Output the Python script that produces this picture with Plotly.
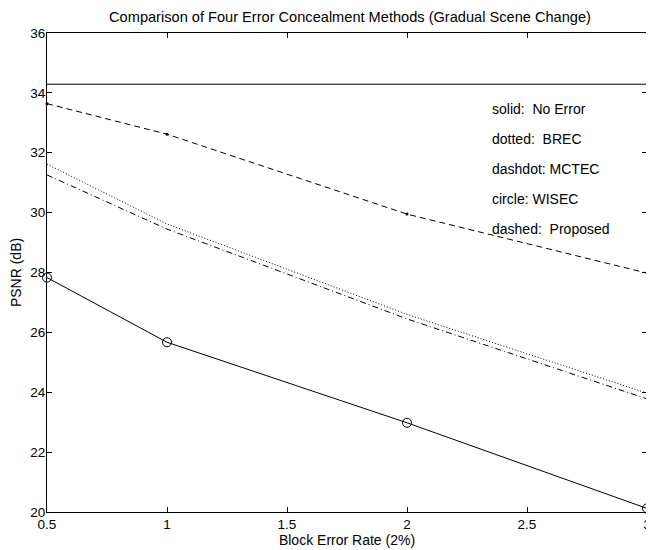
import plotly.graph_objects as go

x_rate = [0.5, 1, 2, 3]
no_error = [34.29, 34.29, 34.29, 34.29]
brec = [31.62, 29.62, 26.6, 23.97]
mctec = [31.26, 29.45, 26.45, 23.78]
wisec = [27.83, 25.67, 22.98, 20.12]
proposed = [33.64, 32.62, 29.95, 27.98]

legend_lines = ["solid:  No Error", "dotted:  BREC", "dashdot: MCTEC", "circle: WISEC", "dashed:  Proposed"]
legend_y = [33.45, 32.45, 31.45, 30.45, 29.45]
legend_x = 2.346

title = "Comparison of Four Error Concealment Methods (Gradual Scene Change)"
x_title = "Block Error Rate (2%)"
y_title = "PSNR (dB)"
x_ticks = [0.5, 1, 1.5, 2, 2.5, 3]
y_ticks = [20, 22, 24, 26, 28, 30, 32, 34, 36]

FONT = "Liberation Sans, Arial, sans-serif"

fig = go.Figure()
fig.add_trace(go.Scatter(x=x_rate, y=no_error, mode="lines",
                         line=dict(color="black", width=1), showlegend=False))
fig.add_trace(go.Scatter(x=x_rate, y=brec, mode="lines",
                         line=dict(color="black", width=1, dash="1px,2px"), showlegend=False))
fig.add_trace(go.Scatter(x=x_rate, y=mctec, mode="lines",
                         line=dict(color="black", width=1, dash="6px,3px,1px,3px"), showlegend=False))
fig.add_trace(go.Scatter(x=x_rate, y=wisec, mode="lines+markers", cliponaxis=False,
                         line=dict(color="black", width=1),
                         marker=dict(symbol="circle-open", size=9, color="black", line=dict(width=1)),
                         showlegend=False))
fig.add_trace(go.Scatter(x=x_rate, y=proposed, mode="lines+markers", cliponaxis=False,
                         line=dict(color="black", width=1, dash="6px,4px"),
                         marker=dict(symbol="circle", size=3, color="black"),
                         showlegend=False))

for txt, yy in zip(legend_lines, legend_y):
    fig.add_annotation(x=legend_x, y=yy, text=txt.replace(" ", "&nbsp;"), showarrow=False,
                       xanchor="left", yanchor="middle",
                       font=dict(family=FONT, size=14, color="black"))

axis_common = dict(showgrid=False, zeroline=False, showline=True, linecolor="black",
                   linewidth=1, mirror="allticks", ticks="inside", ticklen=5,
                   tickcolor="black", ticklabeloverflow="allow",
                   tickfont=dict(family=FONT, size=13.5, color="black"))

fig.update_xaxes(range=[0.5, 3], tickvals=x_ticks, ticktext=[str(v) for v in x_ticks],
                 title=dict(text=x_title, font=dict(family=FONT, size=14, color="black"), standoff=2),
                 **axis_common)
fig.update_yaxes(range=[20, 36], tickvals=y_ticks, ticklabelstandoff=-2,
                 title=dict(text=y_title, font=dict(family=FONT, size=14, color="black"), standoff=6),
                 **axis_common)

# The page body has an 8px default margin; size and margins compensate for it.
fig.update_layout(
    width=646, height=542,
    margin=dict(l=39, r=3, t=25, b=38),
    paper_bgcolor="white", plot_bgcolor="white",
    title=dict(text=title, x=0.5294, xanchor="center", y=0.9834, yanchor="middle",
               font=dict(family=FONT, size=14.6, color="black")),
    font=dict(family=FONT, color="black"),
)

fig.write_html("out.html")
